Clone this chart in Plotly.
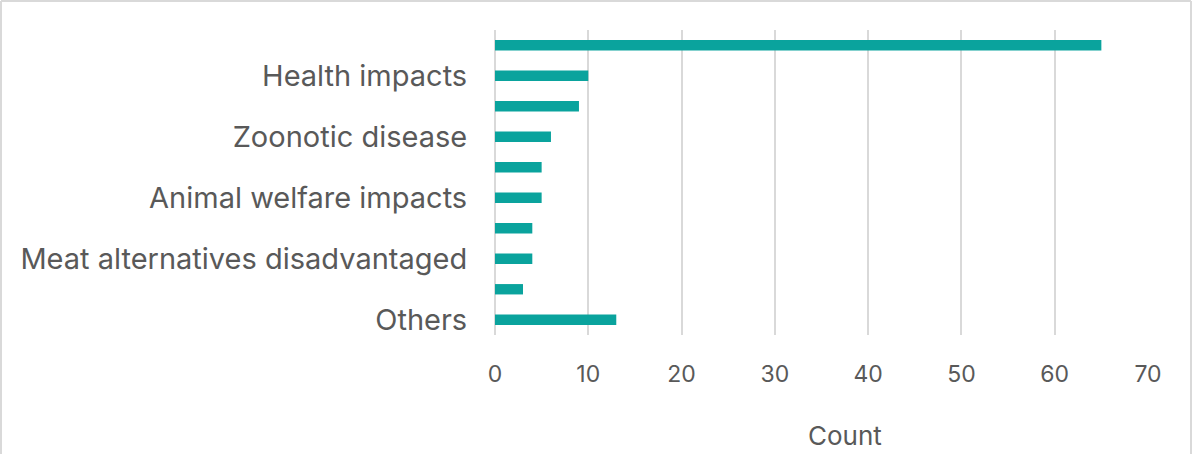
import plotly.graph_objects as go

# Ranked reasons (top to bottom); only every other category carries a printed label
counts = [65, 10, 9, 6, 5, 5, 4, 4, 3, 13]
label_positions = [1, 3, 5, 7, 9]
label_text = ["Health impacts", "Zoonotic disease", "Animal welfare impacts",
              "Meat alternatives disadvantaged", "Others"]
x_ticks = [0, 10, 20, 30, 40, 50, 60, 70]

W, H = 1192, 454
ML, MR, MT, MB = 495, 44, 30, 119
plot_w = W - ML - MR
plot_h = H - MT - MB

TEXT = "#595959"
GRID = "#d9d9d9"
BAR = "#0aa39d"
FONT = "Inter, Roboto, Arial, sans-serif"

positions = list(range(len(counts)))

fig = go.Figure(go.Bar(
    x=counts,
    y=positions,
    orientation="h",
    width=0.34,
    marker=dict(color=BAR, line=dict(width=0)),
    hoverinfo="x",
))

# light frame around the chart area (left, top, right)
def px_to_paper_x(px):
    return (px - ML) / plot_w

def px_to_paper_y(py):
    return 1 - (py - MT) / plot_h

frame = dict(color=GRID, width=2)
fig.add_shape(type="line", xref="paper", yref="paper",
              x0=px_to_paper_x(1), x1=px_to_paper_x(1),
              y0=px_to_paper_y(1), y1=px_to_paper_y(H + 2), line=frame)
fig.add_shape(type="line", xref="paper", yref="paper",
              x0=px_to_paper_x(1), x1=px_to_paper_x(W - 1),
              y0=px_to_paper_y(1), y1=px_to_paper_y(1), line=frame)
fig.add_shape(type="line", xref="paper", yref="paper",
              x0=px_to_paper_x(W - 1), x1=px_to_paper_x(W - 1),
              y0=px_to_paper_y(1), y1=px_to_paper_y(H + 2), line=frame)

fig.add_annotation(text="Count", xref="paper", yref="paper",
                   x=px_to_paper_x(845), y=px_to_paper_y(435),
                   xanchor="center", yanchor="middle", showarrow=False,
                   font=dict(family=FONT, size=26, color=TEXT))

fig.update_layout(
    width=W, height=H,
    margin=dict(l=ML, r=MR, t=MT, b=MB, pad=0),
    paper_bgcolor="white", plot_bgcolor="white",
    showlegend=False,
    font=dict(family=FONT, color=TEXT),
    xaxis=dict(
        range=[0, 70], tickvals=x_ticks,
        showgrid=True, gridcolor=GRID, gridwidth=1.6,
        zeroline=True, zerolinecolor=GRID, zerolinewidth=1.6,
        showline=False,
        ticks="outside", ticklen=18, tickcolor="rgba(0,0,0,0)",
        tickfont=dict(family=FONT, size=23, color=TEXT),
        fixedrange=True,
    ),
    yaxis=dict(
        range=[len(counts) - 0.5, -0.5],
        tickvals=label_positions, ticktext=label_text,
        showgrid=False, zeroline=False, showline=False,
        ticks="outside", ticklen=21, tickcolor="rgba(0,0,0,0)",
        tickfont=dict(family=FONT, size=29, color=TEXT),
        fixedrange=True,
    ),
)

fig.write_html("out.html")
